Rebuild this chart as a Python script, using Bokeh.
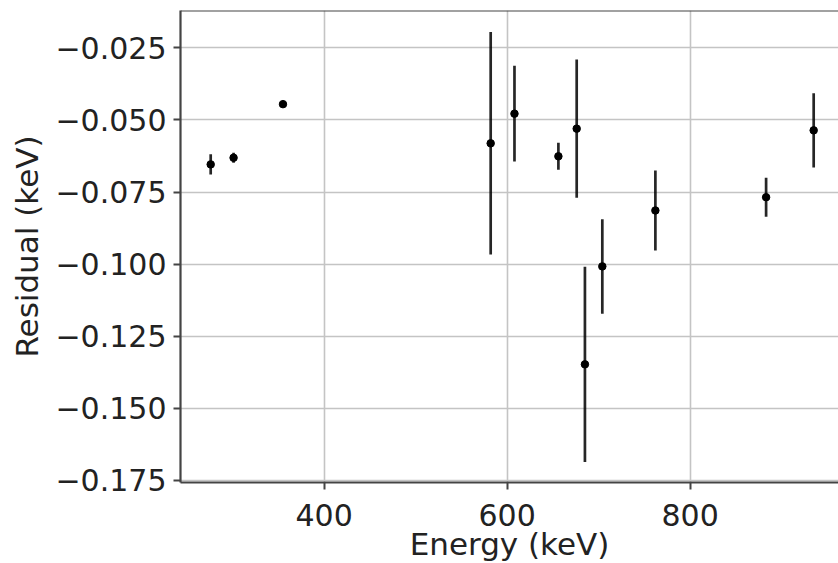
from bokeh.plotting import figure
from bokeh.models import (FixedTicker, CustomJSTickFormatter, Range1d, Span,
                          ColumnDataSource)
from bokeh.embed import file_html
from bokeh.resources import INLINE

# ---- data ----
energy = [276, 301, 355, 582, 608, 656, 676, 685, 704, 762, 883, 935]
residual = [-0.0654, -0.0631, -0.0445, -0.0581, -0.0478, -0.0626,
            -0.0530, -0.1348, -0.1008, -0.0814, -0.0768, -0.0536]
error = [0.0035, 0.0017, 0.0005, 0.0386, 0.0166, 0.0047,
         0.0240, 0.0339, 0.0164, 0.0139, 0.0068, 0.0129]

x_ticks = [400, 600, 800]
y_ticks = [-0.175, -0.150, -0.125, -0.100, -0.075, -0.050, -0.025]

x_title = "Energy (keV)"
y_title = "Residual (keV)"

# ---- layout constants ----
FONT = "DejaVu Sans"
TICK_FS = "30px"
LABEL_FS = "31px"
FRAME_W, FRAME_H = 658, 472
X_START = 243.0          # axes left limit
PX_PER_X = 0.915         # pixels per keV in the original
X_END = X_START + FRAME_W / PX_PER_X
Y_START, Y_END = -0.1758, -0.0120

lower = [r - e for r, e in zip(residual, error)]
upper = [r + e for r, e in zip(residual, error)]
src = ColumnDataSource(dict(x=energy, y=residual, lo=lower, hi=upper))

p = figure(width=838, height=563, output_backend="svg", toolbar_location=None,
           x_range=Range1d(X_START, X_END), y_range=Range1d(Y_START, Y_END),
           min_border_left=180, min_border_right=0, min_border_top=10,
           min_border_bottom=81, frame_width=FRAME_W, frame_height=FRAME_H)

p.outline_line_color = None
p.background_fill_color = "white"
p.border_fill_color = "white"

# grid
for g in (p.xgrid, p.ygrid):
    g.grid_line_color = "#c4c4c4"
    g.grid_line_width = 1.6
p.xgrid.ticker = FixedTicker(ticks=x_ticks)
p.ygrid.ticker = FixedTicker(ticks=y_ticks)

# axes
p.xaxis.ticker = FixedTicker(ticks=x_ticks)
p.yaxis.ticker = FixedTicker(ticks=y_ticks)
p.yaxis.formatter = CustomJSTickFormatter(
    code="return (tick < 0 ? '\u2212' : '') + Math.abs(tick).toFixed(3);")
p.xaxis.formatter = CustomJSTickFormatter(code="return tick.toFixed(0);")
for ax in (p.xaxis, p.yaxis):
    ax.axis_line_color = "#444444"
    ax.axis_line_width = 2.2
    ax.major_tick_line_color = "#444444"
    ax.major_tick_line_width = 2
    ax.major_tick_out = 7
    ax.major_tick_in = 0
    ax.minor_tick_line_color = None
    ax.major_label_text_font = FONT
    ax.major_label_text_font_size = TICK_FS
    ax.major_label_text_color = "#222222"
    ax.axis_label_text_font = FONT
    ax.axis_label_text_font_size = LABEL_FS
    ax.axis_label_text_font_style = "normal"
    ax.axis_label_text_color = "#222222"
p.xaxis.major_label_standoff = 14
p.yaxis.major_label_standoff = 7

p.yaxis.axis_label = y_title
p.yaxis.axis_label_standoff = 7
p.xaxis.axis_label = x_title
p.xaxis.axis_label_standoff = -3

# top spine
p.add_layout(Span(location=Y_END, dimension="width", line_color="#444444",
                  line_width=2.2))

# error bars and points
p.segment(x0="x", y0="lo", x1="x", y1="hi", source=src,
          line_color="black", line_width=2.7, line_alpha=0.85)
p.scatter(x="x", y="y", source=src, size=7.5, color="black")

open("out.html", "w").write(file_html(p, INLINE))
